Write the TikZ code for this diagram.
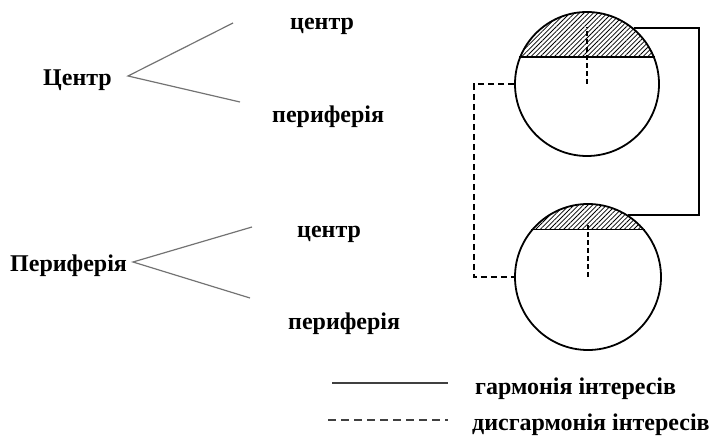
\documentclass[tikz,border=0pt]{standalone}
\usepackage{fontspec}
\setmainfont{Liberation Serif}
\usetikzlibrary{patterns.meta}

\begin{document}
\begin{tikzpicture}[x=1pt,y=-1pt,
    lbl/.style={font=\bfseries\fontsize{24}{28}\selectfont, inner sep=0pt, anchor=base west},
    branch/.style={draw=black!55, line width=1.2pt},
    ring/.style={draw, circle, line width=1.8pt, inner sep=0pt},
    link/.style={line width=2.2pt},
    dlink/.style={line width=2.2pt, dash pattern=on 6pt off 4pt},
    hatch/.style={pattern={Lines[angle=45,distance=3.3pt,line width=0.8pt]}}]
\useasboundingbox (0,0) rectangle (712,443);

% tree on the left
\path (43,86) node[lbl] (top){Центр}
    (290,30) node[lbl] (topc){центр}
    (272,123) node[lbl] (topp){периферія}
    (10,272) node[lbl] (bot){Периферія}
    (297,238) node[lbl] (botc){центр}
    (288,330) node[lbl] (botp){периферія};
\coordinate (a1) at (128,76);
\coordinate (e1) at (233,23);
\coordinate (f1) at (240,102);
\coordinate (a2) at (133,262);
\coordinate (e2) at (252,227);
\coordinate (f2) at (250,298);
\draw[branch] (e1) -- (a1) -- (f1);
\draw[branch] (e2) -- (a2) -- (f2);

% the two circles
\begin{scope}
  \clip (587,84) circle[radius=72pt];
  \fill[hatch] (510,0) rectangle (665,57);
\end{scope}
\begin{scope}
  \clip (588,277) circle[radius=73pt];
  \fill[hatch] (510,200) rectangle (665,230);
\end{scope}
\path (587,84) node[ring, minimum size=144pt] (c1){}
    (588,277) node[ring, minimum size=146pt] (c2){};
\draw[line width=1.8pt] (c1.158) -- (c1.22);
\draw[line width=1.8pt] (c2.140) -- (c2.40);
\draw[line width=1.6pt, dash pattern=on 5pt off 3pt] (c1.center) -- ++(0,-57);
\draw[line width=1.6pt, dash pattern=on 5pt off 3pt] (c2.center) -- ++(0,-52);

% connectors
\coordinate (rt) at (699,0);
\coordinate (lt) at (474,0);
\draw[link] (c1.50) -- (c1.50 -| rt) |- (c2.57);
\draw[dlink] (c1.west) -- (c1.west -| lt) |- (c2.west);

% legend
\coordinate (s1) at (332,383);
\coordinate (s2) at (448,383);
\coordinate (d1) at (328,420);
\coordinate (d2) at (448,420);
\draw[link, black!75] (s1) -- (s2);
\draw[line width=2pt, black!75, dash pattern=on 8pt off 5pt] (d1) -- (d2);
\path (475,395) node[lbl] (harm){гармонія інтересів}
    (472,430) node[lbl] (disharm){дисгармонія інтересів};
\end{tikzpicture}
\end{document}
